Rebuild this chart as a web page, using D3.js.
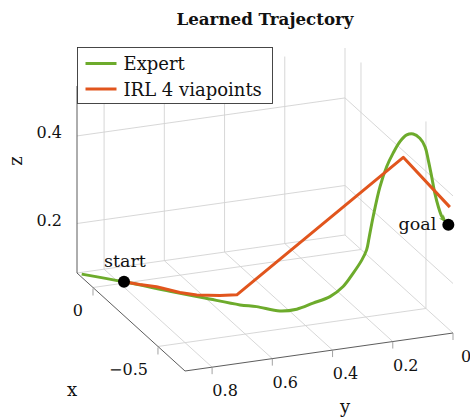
<!DOCTYPE html>
<html>
<head>
<meta charset="utf-8">
<script src="https://cdn.jsdelivr.net/npm/d3@7"></script>
<style>
  body { margin: 0; background: #fff; }
  text { font-family: "DejaVu Serif", serif; fill: #111; }
</style>
</head>
<body>
<svg id="chart" width="470" height="419"></svg>
<script>
// expert demo (x, y, z)
const expertX = [0.11, 0.00, -0.11, -0.20, -0.29, -0.32, -0.37, -0.40, -0.44, -0.48, -0.50, -0.515, -0.525, -0.532, -0.537, -0.543, -0.549, -0.555, -0.560, -0.566, -0.572, -0.578, -0.585, -0.595, -0.610, -0.625, -0.640, -0.655, -0.670, -0.680];
const expertY = [0.880, 0.787, 0.682, 0.605, 0.527, 0.485, 0.429, 0.386, 0.349, 0.310, 0.275, 0.248, 0.224, 0.211, 0.205, 0.194, 0.174, 0.154, 0.135, 0.115, 0.095, 0.076, 0.057, 0.044, 0.040, 0.035, 0.031, 0.026, 0.021, 0.017];
const expertZ = [0.087, 0.090, 0.088, 0.089, 0.090, 0.090, 0.088, 0.096, 0.117, 0.139, 0.164, 0.196, 0.226, 0.250, 0.278, 0.327, 0.395, 0.441, 0.471, 0.497, 0.512, 0.514, 0.504, 0.486, 0.460, 0.425, 0.391, 0.364, 0.345, 0.339];

// learned trajectory, 4 via points
const irlX = [0.00, -0.04, -0.07, -0.14, -0.175, -0.20, -0.21, -0.55, -0.70];
const irlY = [0.787, 0.752, 0.709, 0.662, 0.621, 0.555, 0.503, 0.097, 0.007];
const irlZ = [0.090, 0.091, 0.090, 0.091, 0.091, 0.090, 0.089, 0.455, 0.373];

const startPt = [0.00, 0.787, 0.090];
const goalPt = [-0.70, 0.012, 0.333];

const xTicks = [0, -0.5];
const yTicks = [0, 0.2, 0.4, 0.6, 0.8];
const zTicks = [0.2, 0.4];
const seriesNames = ["Expert", "IRL 4 viapoints"];

const xLim = [-0.708, 0.123], yLim = [0, 0.89], zLim = [0.087, 0.514];

const svg = d3.select("#chart");
const green = "#6dab2c", orange = "#e1551d", gridColor = "#d2d2d2", axisColor = "#4a4a4a";

// 3d box: corner (xmin, ymin, zmin) and the three edge vectors in px
const corner = [453, 333];
const vx = [-108, -98], vy = [-268, 38], vz = [0, -187];
const sx = d3.scaleLinear().domain(xLim).range([0, 1]);
const sy = d3.scaleLinear().domain(yLim).range([0, 1]);
const sz = d3.scaleLinear().domain(zLim).range([0, 1]);
function proj(x, y, z) {
  const a = sx(x), b = sy(y), c = sz(z);
  return [corner[0] + a * vx[0] + b * vy[0] + c * vz[0],
          corner[1] + a * vx[1] + b * vy[1] + c * vz[1]];
}
const seg = (p, q) => `M${p[0]},${p[1]}L${q[0]},${q[1]}`;

const [x0, x1] = xLim, [y0, y1] = yLim, [z0, z1] = zLim;

// grid lines on the back planes and the floor
const grid = [];
yTicks.forEach(y => grid.push([proj(x1, y, z0), proj(x1, y, z1)]));        // back wall verticals
zTicks.forEach(z => grid.push([proj(x1, y0, z), proj(x1, y1, z)]));        // back wall horizontals
grid.push([proj(x1, y0, z0), proj(x1, y1, z0)]);
xTicks.forEach(x => grid.push([proj(x, y0, z0), proj(x, y0, z1)]));        // side wall verticals
zTicks.forEach(z => grid.push([proj(x0, y0, z), proj(x1, y0, z)]));        // side wall horizontals
xTicks.forEach(x => grid.push([proj(x, y0, z0), proj(x, y1, z0)]));        // floor
yTicks.forEach(y => grid.push([proj(x0, y, z0), proj(x1, y, z0)]));

svg.append("g").selectAll("path").data(grid).join("path")
  .attr("d", d => seg(d[0], d[1]))
  .attr("stroke", gridColor).attr("stroke-width", 0.9).attr("fill", "none");

// axis lines
const axes = [
  [proj(x1, y1, z0), proj(x0, y1, z0)],
  [proj(x0, y1, z0), proj(x0, y0, z0)],
  [proj(x1, y1, z0), proj(x1, y1, z1)]
];
svg.append("g").selectAll("path").data(axes).join("path")
  .attr("d", d => seg(d[0], d[1]))
  .attr("stroke", axisColor).attr("stroke-width", 0.9).attr("fill", "none");

// ticks
const tickG = svg.append("g");
xTicks.forEach(x => {
  const p = proj(x, y1, z0);
  tickG.append("path").attr("d", `M${p[0]},${p[1] + 1}v7`).attr("stroke", "#999").attr("stroke-width", 0.9);
  tickG.append("text").attr("x", p[0] - 10).attr("y", p[1] + 23)
    .attr("text-anchor", "end").attr("dominant-baseline", "central").attr("font-size", 16)
    .text(d3.format("")(x).replace("-", "\u2212"));
});
yTicks.forEach(y => {
  const p = proj(x0, y, z0);
  tickG.append("path").attr("d", `M${p[0]},${p[1]}v7`).attr("stroke", "#999").attr("stroke-width", 0.9);
  tickG.append("text").attr("x", p[0] + 13).attr("y", p[1] + 23.5)
    .attr("text-anchor", "middle").attr("dominant-baseline", "central").attr("font-size", 16)
    .text(d3.format("")(y));
});
zTicks.forEach(z => {
  const p = proj(x1, y1, z);
  tickG.append("text").attr("x", p[0] - 15).attr("y", p[1] - 3)
    .attr("text-anchor", "end").attr("dominant-baseline", "central").attr("font-size", 16)
    .text(d3.format("")(z));
});

// axis labels
svg.append("text").attr("x", 72).attr("y", 389).attr("text-anchor", "middle")
  .attr("dominant-baseline", "central").attr("font-size", 18).text("x");
svg.append("text").attr("x", 345).attr("y", 406).attr("text-anchor", "middle")
  .attr("dominant-baseline", "central").attr("font-size", 18).text("y");
svg.append("text").attr("transform", "translate(15,161) rotate(-90)").attr("text-anchor", "middle")
  .attr("dominant-baseline", "central").attr("font-size", 18).text("z");

// title
svg.append("text").attr("x", 265).attr("y", 25).attr("text-anchor", "middle")
  .attr("font-size", 16.7).attr("font-weight", "bold").text("Learned Trajectory");

// trajectories
svg.append("defs").append("marker").attr("id", "arrow")
  .attr("viewBox", "0 0 10 10").attr("refX", 6).attr("refY", 5)
  .attr("markerWidth", 8).attr("markerHeight", 8).attr("markerUnits", "userSpaceOnUse")
  .attr("orient", "auto")
  .append("path").attr("d", "M0,1 L10,5 L0,9 L3,5 z").attr("fill", green);

const line = d3.line().curve(d3.curveCatmullRom.alpha(0.5));
const expertPts = expertX.map((x, i) => proj(x, expertY[i], expertZ[i]));
const irlPts = irlX.map((x, i) => proj(x, irlY[i], irlZ[i]));

svg.append("path").attr("d", line(expertPts))
  .attr("fill", "none").attr("stroke", green).attr("stroke-width", 3)
  .attr("stroke-linejoin", "round").attr("marker-end", "url(#arrow)");
svg.append("path").attr("d", d3.line()(irlPts))
  .attr("fill", "none").attr("stroke", orange).attr("stroke-width", 3)
  .attr("stroke-linejoin", "round");

// start / goal
const sp = proj(...startPt), gp = proj(...goalPt);
svg.append("circle").attr("cx", sp[0]).attr("cy", sp[1]).attr("r", 6).attr("fill", "#000");
svg.append("circle").attr("cx", gp[0]).attr("cy", gp[1]).attr("r", 6).attr("fill", "#000");
svg.append("text").attr("x", sp[0] + 1).attr("y", sp[1] - 15).attr("text-anchor", "middle")
  .attr("font-size", 17.5).text("start");
svg.append("text").attr("x", gp[0] - 12).attr("y", gp[1] + 5).attr("text-anchor", "end")
  .attr("font-size", 17.5).text("goal");

// legend
const leg = svg.append("g").attr("transform", "translate(77.5,47.5)");
leg.append("rect").attr("width", 195).attr("height", 56)
  .attr("fill", "#fff").attr("stroke", "#333").attr("stroke-width", 0.9);
[green, orange].forEach((c, i) => {
  const yy = 16 + i * 25.5;
  leg.append("line").attr("x1", 8).attr("x2", 39).attr("y1", yy).attr("y2", yy)
    .attr("stroke", c).attr("stroke-width", 3);
  leg.append("text").attr("x", 46).attr("y", yy).attr("dominant-baseline", "central")
    .attr("font-size", 18).text(seriesNames[i]);
});
</script>
</body>
</html>
